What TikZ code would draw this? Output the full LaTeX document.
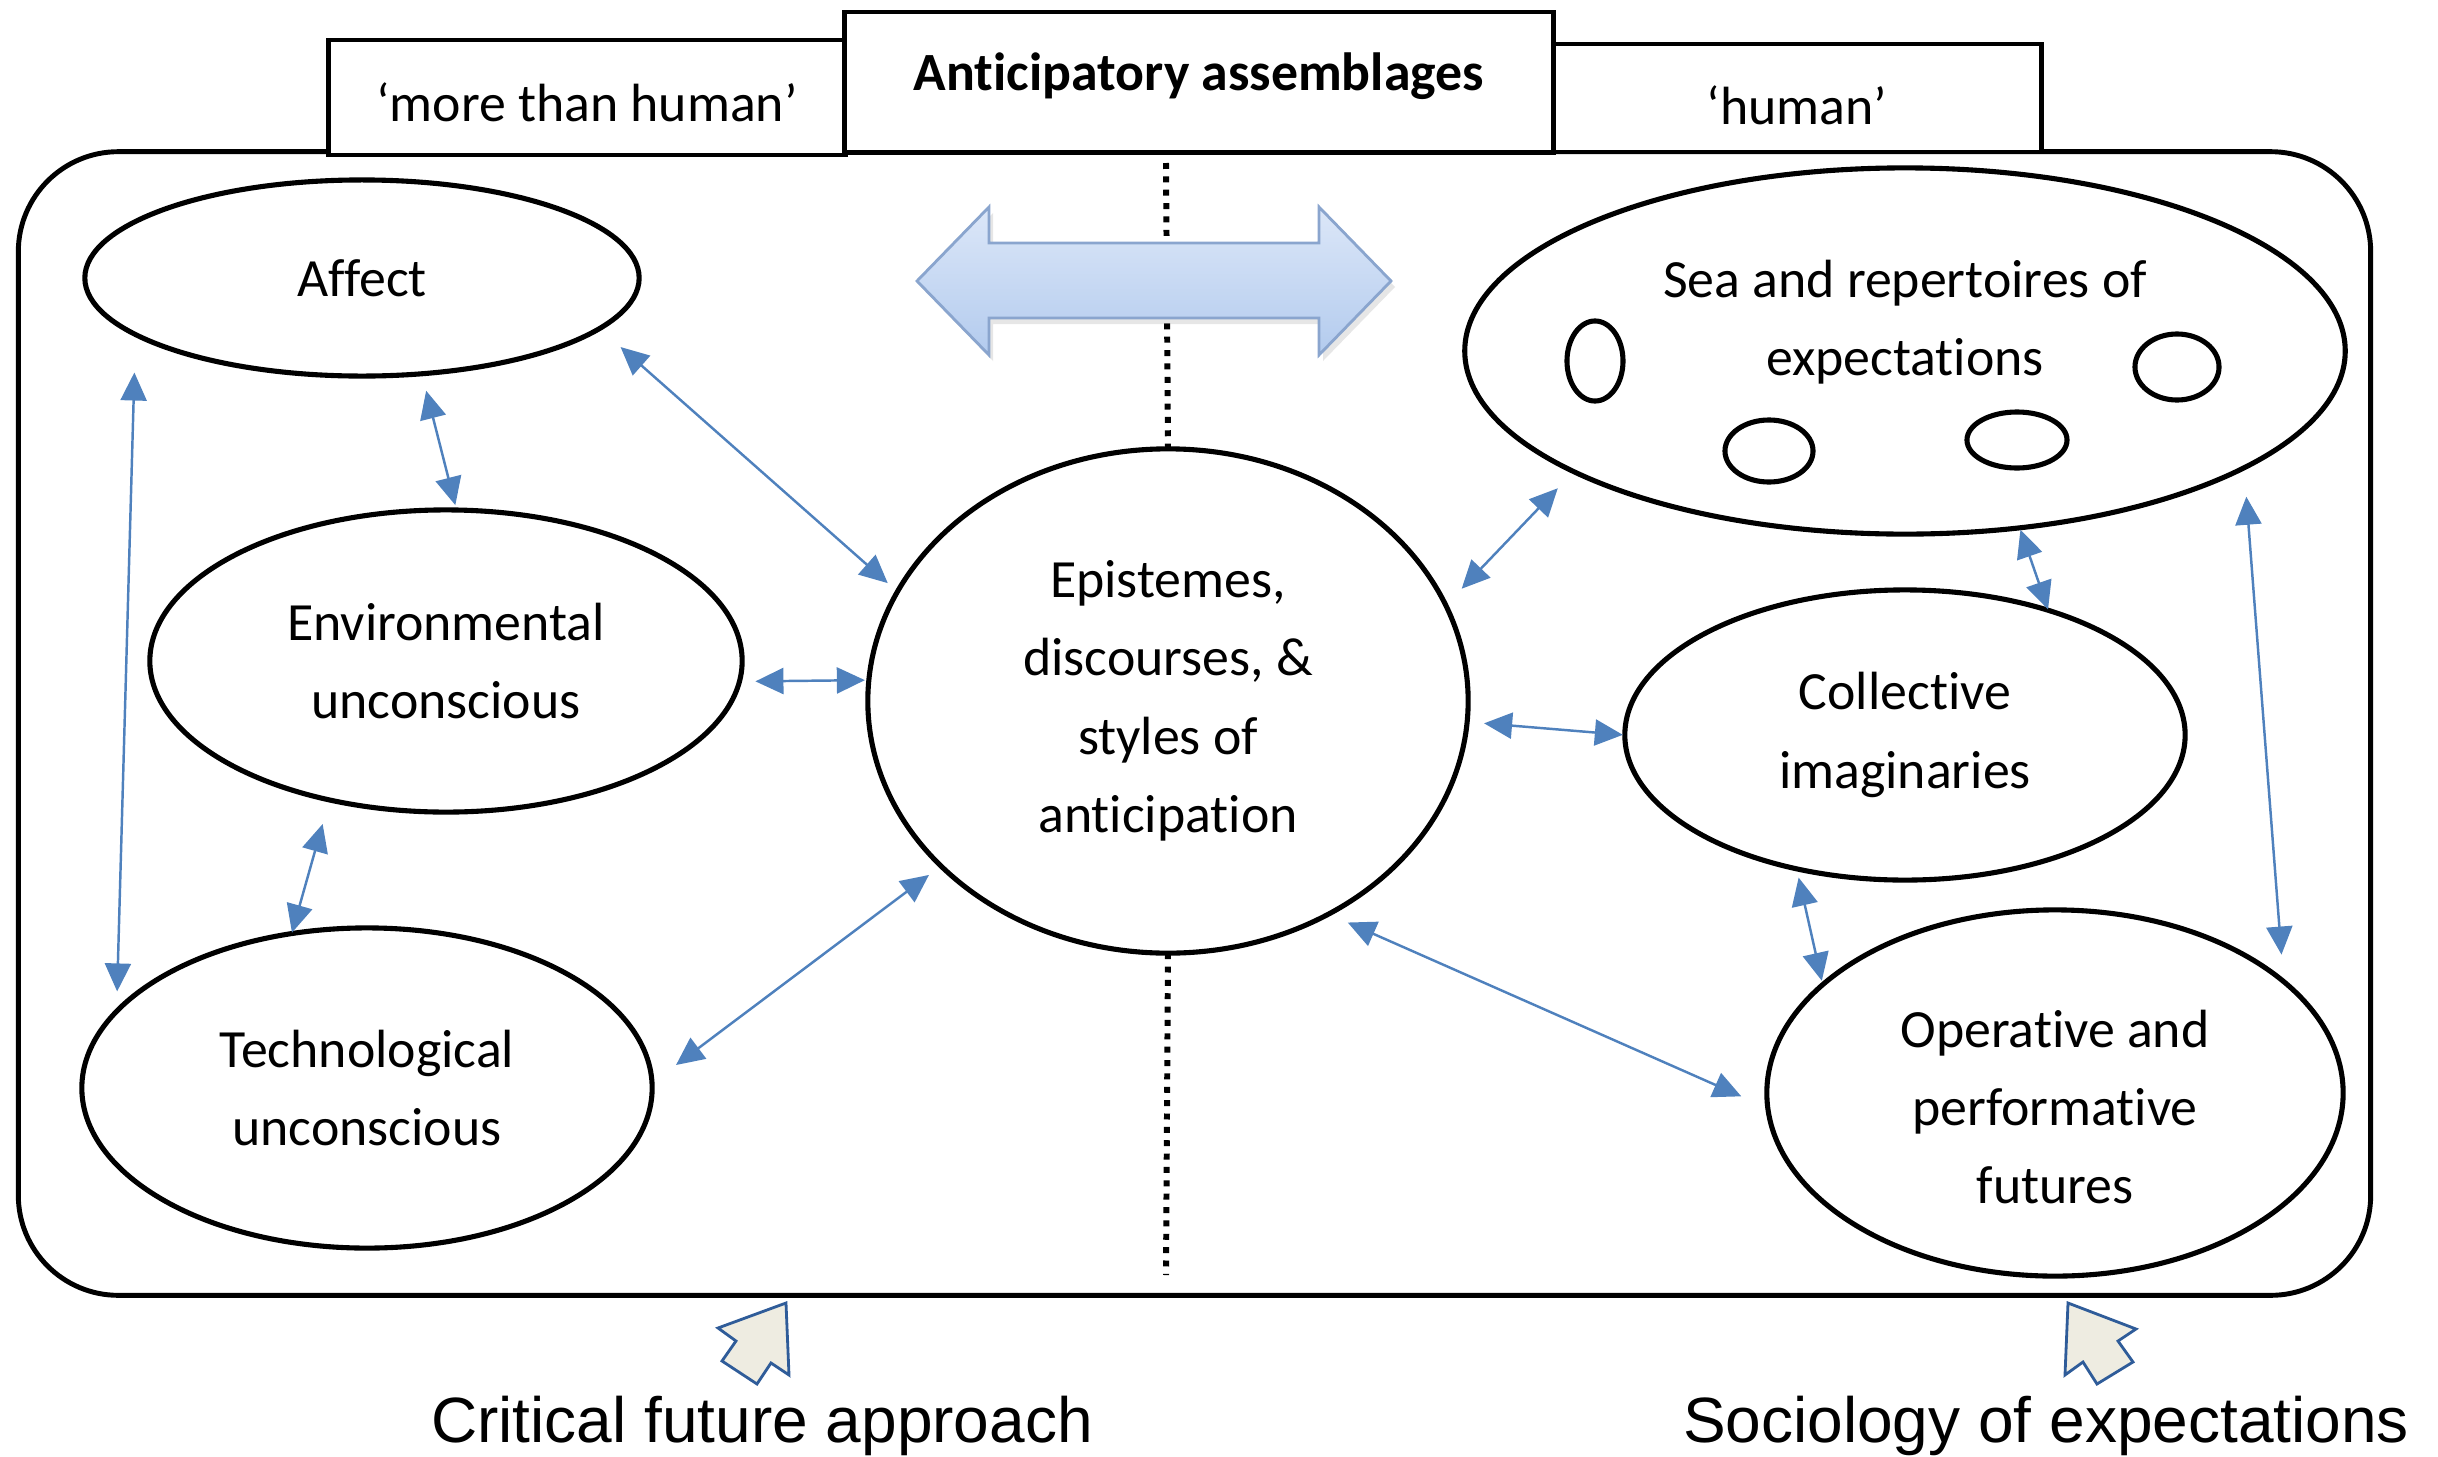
\documentclass[tikz,border=0pt]{standalone}
\usepackage{fontspec}
\setmainfont{Carlito}[Ligatures=NoCommon]
\newfontfamily\arialfont{Liberation Sans}
\usetikzlibrary{arrows.meta,shapes.geometric,shadows}
\definecolor{connblue}{HTML}{4F81BD}
\definecolor{arrtop}{HTML}{DCE7F8}
\definecolor{arrbot}{HTML}{B3CBEE}
\definecolor{arredge}{HTML}{8AA5CE}
\definecolor{tanfill}{HTML}{EEECE1}
\definecolor{tanedge}{HTML}{2F5C99}
\begin{document}
\begin{tikzpicture}[x=0.01cm,y=-0.01cm,
  every node/.style={font=\fontsize{15.3}{22.3}\selectfont},
  ell/.style={draw, ellipse, line width=1.45pt, inner sep=0pt, outer sep=0pt, align=center},
  sml/.style={draw, ellipse, line width=1.45pt, inner sep=0pt, outer sep=0pt},
  tab/.style={draw, line width=1.4pt, fill=white, inner sep=0pt},
  txt/.style={align=center, inner sep=0pt},
  conn/.style={draw=connblue, line width=0.7pt, {Triangle[length=2.8mm,width=2.6mm]}-{Triangle[length=2.8mm,width=2.6mm]}},
  dotline/.style={line width=1.7pt, dash pattern=on 1.7pt off 2.1pt},
  blockarrow/.style={draw=tanedge, fill=tanfill, line width=0.8pt, line join=miter},
  bottomlabel/.style={font=\arialfont\fontsize{18.2}{22}\selectfont, inner sep=0pt}]
\useasboundingbox (0,0) rectangle (2438,1457);

% outer frame
\node[draw, line width=1.4pt, rounded corners=1cm, minimum width=23.51cm, minimum height=11.43cm, inner sep=0pt] (frame) at (1194.5,723.5) {};

% ellipses
\node[ell, minimum width=5.54cm, minimum height=1.96cm] (affect) at (362,278) {Affect};
\node[ell, minimum width=5.92cm, minimum height=3.02cm] (env) at (446,661) {Environmental\\unconscious};
\node[ell, minimum width=5.70cm, minimum height=3.20cm] (tech) at (367,1088) {Technological\\unconscious};
\node[ell, minimum width=6.00cm, minimum height=5.04cm] (central) at (1168,701) {Epistemes,\\discourses, \&\\styles of\\anticipation};
\node[ell, minimum width=8.80cm, minimum height=3.66cm] (sea) at (1905,351) {};
\node[txt] (seatext) at (1905,322) {Sea and repertoires of\\expectations};
\node[sml, minimum width=0.56cm, minimum height=0.80cm] (s1) at (1595,361) {};
\node[sml, minimum width=0.84cm, minimum height=0.66cm] (s2) at (2177,367) {};
\node[sml, minimum width=0.88cm, minimum height=0.62cm] (s3) at (1769,451) {};
\node[sml, minimum width=1.00cm, minimum height=0.56cm] (s4) at (2017,440) {};
\node[ell, minimum width=5.60cm, minimum height=2.90cm] (coll) at (1905,735) {Collective\\imaginaries};
\node[ell, minimum width=5.76cm, minimum height=3.66cm] (oper) at (2055,1093) {};
\node[txt] (opertext) at (2055,1107) {Operative and\\performative\\futures};

% dotted divider
\coordinate (dtop) at (1166,163);
\coordinate (dbot) at (1166,1275);
\draw[dotline] (dtop) -- (central.north);
\draw[dotline] (central.south) -- (dbot);

% big double arrow
\draw[draw=arredge, line width=0.8pt, top color=arrtop, bottom color=arrbot,
      drop shadow={opacity=0.2, shadow xshift=0.04cm, shadow yshift=-0.06cm}]
  (917,281) -- (989,207) -- (989,243) -- (1319,243) -- (1319,207) -- (1391,281)
  -- (1319,355) -- (1319,318) -- (989,318) -- (989,355) -- cycle;

% connectors
\draw[conn, shorten <=3.8mm, shorten >=2.0mm] (affect.194.3) -- (tech.163.2);
\draw[conn, shorten <=1.75mm, shorten >=0.5mm] (affect.302.1) -- (env.86.2);
\draw[conn, shorten <=2.8mm, shorten >=1.3mm] (affect.348.7) -- (central.158);
\draw[conn, shorten <=1.6mm, shorten >=0.4mm] (env.356.1) -- (central.176.7);
\draw[conn, shorten <=2.5mm, shorten >=0.1mm] (env.230.2) -- (tech.116);
\draw[conn, shorten <=3.0mm, shorten >=1.5mm] (tech.1) -- (central.216.9);
\draw[conn, shorten <=2.3mm, shorten >=2.3mm] (central.19.9) -- (sea.200);
\draw[conn, shorten <=1.7mm, shorten >=0.2mm] (central.356.7) -- (coll.180);
\draw[conn, shorten <=2.1mm, shorten >=2.9mm] (central.307.3) -- (oper.183);
\draw[conn, shorten <=0.2mm, shorten >=0.1mm] (sea.303.2) -- (coll.41.6);
\draw[conn, shorten <=0.9mm, shorten >=0.4mm] (coll.231.1) -- (oper.155.7);
\draw[conn, shorten <=2.9mm, shorten >=2.7mm] (sea.341.9) -- (oper.26.9);

% tabs
\node[tab, minimum width=5.16cm, minimum height=1.15cm] (tabl) at (587,97.5) {};
\node[tab, minimum width=4.88cm, minimum height=1.08cm] (tabr) at (1797,98) {};
\node[tab, minimum width=7.08cm, minimum height=1.40cm] (tabc) at (1199,82) {};
\node[txt] (tabltext) at (587,102) {‘more than human’};
\node[txt] (tabctext) at (1199,76) {\bfseries Anticipatory assemblages};
\node[txt] (tabrtext) at (1797,105) {‘human’};

% bottom block arrows
\draw[blockarrow] (786,1303) -- (789,1375) -- (771,1363) -- (757,1384) -- (722,1361) -- (736,1341) -- (718,1328) -- cycle;
\draw[blockarrow] (2068,1303) -- (2136,1329) -- (2118,1341) -- (2133,1362) -- (2097,1384) -- (2083,1362) -- (2065,1375) -- cycle;

% bottom labels
\node[bottomlabel] (critical) at (762,1426) {Critical future approach};
\node[bottomlabel] (sociology) at (2046,1426) {Sociology of expectations};
\end{tikzpicture}
\end{document}
